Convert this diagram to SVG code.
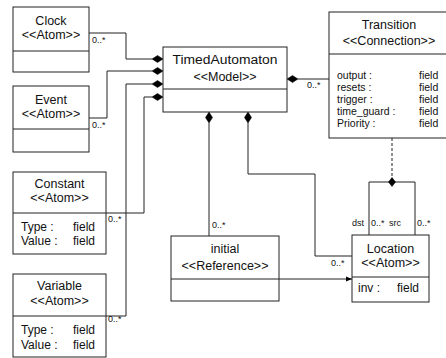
<svg xmlns="http://www.w3.org/2000/svg" width="446" height="358" viewBox="0 0 446 358">
<defs>
<style>
.box{fill:#fff;stroke:#222;stroke-width:1}
.div{stroke:#222;stroke-width:1}
.t{font-family:"Liberation Sans",Arial,sans-serif;font-size:12.5px;fill:#111;text-anchor:middle}
.f{font-family:"Liberation Sans",Arial,sans-serif;font-size:12px;fill:#111}
.g{font-family:"Liberation Sans",Arial,sans-serif;font-size:10.5px;fill:#111}
.m{font-family:"Liberation Sans",Arial,sans-serif;font-size:9px;fill:#111}
.c{fill:none;stroke:#222;stroke-width:1}
.d{fill:#000;stroke:#000;stroke-width:0.5}
</style>
<marker id="arr" markerWidth="7" markerHeight="6" refX="6" refY="3" orient="auto" markerUnits="userSpaceOnUse">
<path d="M0,0.5 L6,3 L0,5.5 Z" fill="#000"/>
</marker>
</defs>
<rect width="446" height="358" fill="#fff"/>
<g id="connectors">
<path class="c" d="M89,33 H126 V59 H152"/>
<path class="c" d="M89,118 H107 V71 H152"/>
<path class="c" d="M106,316 H126 V84 H152"/>
<path class="c" d="M106,213 H144 V97 H152"/>
<polygon class="d" points="152,59 157.5,55.5 163,59 157.5,62.5"/>
<polygon class="d" points="152,71 157.5,67.5 163,71 157.5,74.5"/>
<polygon class="d" points="152,84 157.5,80.5 163,84 157.5,87.5"/>
<polygon class="d" points="152,97 157.5,93.5 163,97 157.5,100.5"/>
<path class="c" d="M298,79 H329"/>
<polygon class="d" points="287,79 292.5,75.5 298,79 292.5,82.5"/>
<path class="c" d="M209,123 V236"/>
<polygon class="d" points="209,112 212.5,117.5 209,123 205.5,117.5"/>
<path class="c" d="M248,123 V174 H315 V256 H352"/>
<polygon class="d" points="248,112 251.5,117.5 248,123 244.5,117.5"/>
<path class="c" d="M279,279 H352" marker-end="url(#arr)"/>
<path class="c" d="M392,138 V182" stroke-dasharray="3,2"/>
<path class="c" d="M369,235 V182 H415 V235"/>
<polygon class="d" points="392,177.5 395.5,182 392,186.5 388.5,182"/>
<text class="m" x="92" y="43">0..*</text>
<text class="m" x="92" y="128">0..*</text>
<text class="m" x="108" y="222">0..*</text>
<text class="m" x="108" y="322">0..*</text>
<text class="m" x="307" y="88">0..*</text>
<text class="m" x="212" y="228">0..*</text>
<text class="m" x="331" y="266">0..*</text>
<text class="m" x="352" y="226">dst</text>
<text class="m" x="371" y="226">0..*</text>
<text class="m" x="389" y="226">src</text>
<text class="m" x="417" y="226">0..*</text>
</g>
<g id="clock">
<rect class="box" x="13" y="7" width="76" height="65"/>
<line class="div" x1="13" y1="51" x2="89" y2="51"/>
<text class="t" x="51" y="25">Clock</text>
<text class="t" x="51" y="39">&lt;&lt;Atom&gt;&gt;</text>
</g>
<g id="event">
<rect class="box" x="13" y="86" width="76" height="66"/>
<line class="div" x1="13" y1="129" x2="89" y2="129"/>
<text class="t" x="51" y="104">Event</text>
<text class="t" x="51" y="118">&lt;&lt;Atom&gt;&gt;</text>
</g>
<g id="constant">
<rect class="box" x="13" y="172" width="93" height="82"/>
<line class="div" x1="13" y1="213" x2="106" y2="213"/>
<text class="t" x="59.5" y="188">Constant</text>
<text class="t" x="59.5" y="202">&lt;&lt;Atom&gt;&gt;</text>
<text class="f" x="21" y="231">Type :</text>
<text class="f" x="73" y="231">field</text>
<text class="f" x="21" y="245">Value :</text>
<text class="f" x="73" y="245">field</text>
</g>
<g id="variable">
<rect class="box" x="13" y="274" width="93" height="83"/>
<line class="div" x1="13" y1="316" x2="106" y2="316"/>
<text class="t" x="59.5" y="290">Variable</text>
<text class="t" x="59.5" y="305">&lt;&lt;Atom&gt;&gt;</text>
<text class="f" x="21" y="334">Type :</text>
<text class="f" x="73" y="334">field</text>
<text class="f" x="21" y="349">Value :</text>
<text class="f" x="73" y="349">field</text>
</g>
<g id="timedautomaton">
<rect class="box" x="163" y="47" width="124" height="65"/>
<line class="div" x1="163" y1="89" x2="287" y2="89"/>
<text class="t" x="225" y="64" textLength="105" lengthAdjust="spacingAndGlyphs">TimedAutomaton</text>
<text class="t" x="225" y="81">&lt;&lt;Model&gt;&gt;</text>
</g>
<g id="transition">
<rect class="box" x="329" y="12" width="120" height="126"/>
<line class="div" x1="329" y1="54" x2="449" y2="54"/>
<text class="t" x="389" y="29">Transition</text>
<text class="t" x="389" y="45">&lt;&lt;Connection&gt;&gt;</text>
<text class="g" x="337" y="79">output :</text>
<text class="g" x="419" y="79">field</text>
<text class="g" x="337" y="91">resets :</text>
<text class="g" x="419" y="91">field</text>
<text class="g" x="337" y="103">trigger :</text>
<text class="g" x="419" y="103">field</text>
<text class="g" x="337" y="115">time_guard :</text>
<text class="g" x="419" y="115">field</text>
<text class="g" x="337" y="127">Priority :</text>
<text class="g" x="419" y="127">field</text>
</g>
<g id="initial">
<rect class="box" x="171" y="236" width="108" height="65"/>
<line class="div" x1="171" y1="279" x2="279" y2="279"/>
<text class="t" x="225" y="253">initial</text>
<text class="t" x="225" y="270">&lt;&lt;Reference&gt;&gt;</text>
</g>
<g id="location">
<rect class="box" x="352" y="235" width="77" height="67"/>
<line class="div" x1="352" y1="277" x2="429" y2="277"/>
<text class="t" x="390.5" y="253">Location</text>
<text class="t" x="390.5" y="267">&lt;&lt;Atom&gt;&gt;</text>
<text class="f" x="358" y="292">inv :</text>
<text class="f" x="397" y="292">field</text>
</g>
</svg>
